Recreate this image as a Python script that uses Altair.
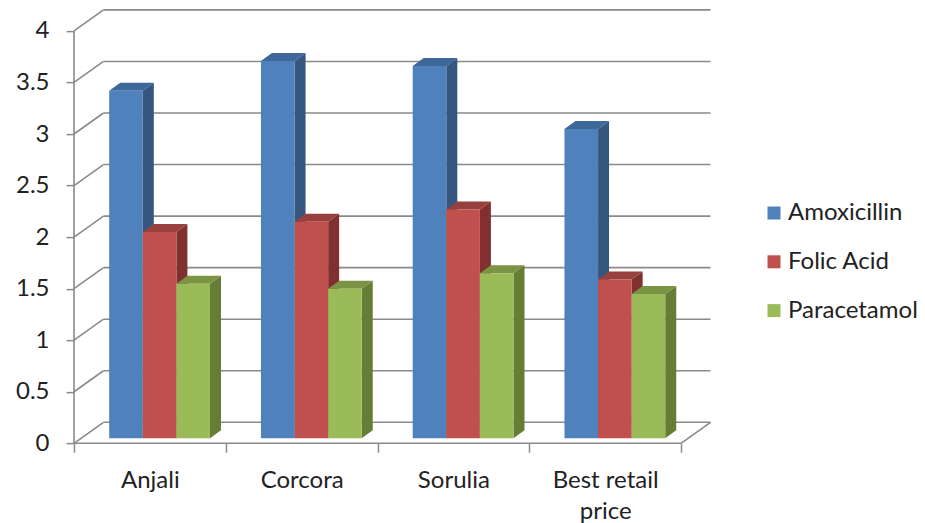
import json
import altair as alt
import pandas as pd

# ---------------- data ----------------
categories = ["Anjali", "Corcora", "Sorulia", "Best retail price"]
category_labels = [["Anjali"], ["Corcora"], ["Sorulia"], ["Best retail", "price"]]
series = ["Amoxicillin", "Folic Acid", "Paracetamol"]
amoxicillin = [3.37, 3.66, 3.61, 3.0]
folic_acid = [2.0, 2.1, 2.22, 1.54]
paracetamol = [1.5, 1.45, 1.6, 1.4]
y_ticks = [0, 0.5, 1, 1.5, 2, 2.5, 3, 3.5, 4]

# ---------------- style ----------------
front_colors = ["#4F81BD", "#C0504D", "#9BBB59"]
side_colors = ["#35567F", "#80302E", "#667D36"]
top_colors = ["#3E679A", "#98403D", "#7A9443"]
GRID = "#8A8A8A"
TEXT = "#222222"
FONT = "Lato"
FS = 24

PX_X = 151.75   # pixels per category
PX_Y = 103.1    # pixels per value unit
WDX, WDY = 29.5 / PX_X, 21 / PX_Y         # wall depth
BDX, BDY = 11 / PX_X, 8 / PX_Y            # bar depth
BAR_LEFT, BAR_W, BASE = 0.232, 0.2214, 0.0485

n = len(categories)
XMAX, YMAX = n + 0.2, 4.25
W, H = XMAX * PX_X, YMAX * PX_Y
LEFT, TOP = 74, 443.3 - H

values = [amoxicillin, folic_acid, paracetamol]
rows = []
for i, c in enumerate(categories):
    for j, s in enumerate(series):
        rows.append({"cat": c, "ci": i, "series": s, "si": j, "value": values[j][i],
                     "side": side_colors[j], "top": top_colors[j], "key": f"{i}-{j}"})
df = pd.DataFrame(rows)
ticks_df = pd.DataFrame({"t": y_ticks})

xs = alt.Scale(domain=[0, XMAX], nice=False, zero=False)
ys = alt.Scale(domain=[0, YMAX], nice=False, zero=False)

xaxis = alt.Axis(
    values=list(range(n + 1)), tickSize=9, tickColor=GRID, tickWidth=1.5,
    domain=False, grid=False, labelOffset=PX_X / 2,
    labelExpr=f"datum.value < {n} ? {json.dumps(category_labels)}[datum.value] : ''",
    labelFont=FONT, labelFontSize=FS, labelColor=TEXT, labelPadding=16,
    labelLineHeight=31, labelOverlap=False, labelFlush=False, title=None,
)
yaxis = alt.Axis(
    values=y_ticks, format=".1~f", tickSize=8, tickColor=GRID, tickWidth=1.5,
    domain=False, grid=False, labelFont=FONT, labelFontSize=FS, labelColor=TEXT,
    labelPadding=17, title=None,
)


def X(f):
    return alt.X(f, type="quantitative", scale=xs, axis=xaxis, title=None)


def Y(f):
    return alt.Y(f, type="quantitative", scale=ys, axis=yaxis, title=None)


# ---------------- walls ----------------
walls_base = alt.Chart(ticks_df)
back_lines = walls_base.transform_calculate(
    xa=f"{WDX}", xb=f"{n}+{WDX}", ya=f"datum.t+{WDY}"
).mark_rule(color=GRID, strokeWidth=1.6).encode(
    x=X("xa"), x2="xb:Q", y=Y("ya"), y2="ya:Q",
)
left_diag = walls_base.transform_calculate(
    xa="0", xb=f"{WDX}", ya="datum.t", yb=f"datum.t+{WDY}"
).mark_rule(color=GRID, strokeWidth=1.6).encode(
    x=X("xa"), x2="xb:Q", y=Y("ya"), y2="yb:Q"
)
frame = walls_base.transform_aggregate(tmax="max(t)", tmin="min(t)").transform_calculate(
    xa="0", xb=f"{n}", yzero="datum.tmin", ytop="datum.tmax",
    xr=f"{n}+{WDX}", yr=f"datum.tmin+{WDY}"
)
y_line = frame.mark_rule(color=GRID, strokeWidth=1.6).encode(
    x=X("xa"), y=Y("yzero"), y2="ytop:Q"
)
floor_front = frame.mark_rule(color=GRID, strokeWidth=1.6).encode(
    x=X("xa"), x2="xb:Q", y=Y("yzero"), y2="yzero:Q"
)
floor_right = frame.mark_rule(color=GRID, strokeWidth=1.6).encode(
    x=X("xb"), x2="xr:Q", y=Y("yzero"), y2="yr:Q"
)

# ---------------- bars ----------------
base = alt.Chart(df).transform_calculate(
    x0=f"datum.ci + {BAR_LEFT} + datum.si*{BAR_W}",
    x1=f"datum.ci + {BAR_LEFT} + (datum.si+1)*{BAR_W}",
    y0=f"{BASE}",
    y1=f"{BASE} + datum.value",
)
corners = base.transform_calculate(k="[0, 1]").transform_flatten(["k"])
sides = corners.transform_calculate(
    sx=f"datum.x1 + datum.k*{BDX}",
    sy=f"datum.y1 + datum.k*{BDY}",
    sy2=f"datum.y0 + datum.k*{BDY}",
).mark_area(orient="vertical").encode(
    x=X("sx"), y=Y("sy"), y2="sy2:Q",
    fill=alt.Fill("side:N", scale=None), detail="key:N",
)
tops = corners.transform_calculate(
    tx=f"datum.x0 + datum.k*{BDX}",
    tx2=f"datum.x1 + datum.k*{BDX}",
    ty=f"datum.y1 + datum.k*{BDY}",
).mark_area(orient="horizontal").encode(
    y=Y("ty"), x=X("tx"), x2="tx2:Q",
    fill=alt.Fill("top:N", scale=None), detail="key:N",
)
fronts = base.mark_rect().encode(
    x=X("x0"), x2="x1:Q", y=Y("y0"), y2="y1:Q",
    color=alt.Color(
        "series:N",
        scale=alt.Scale(domain=series, range=front_colors),
        legend=alt.Legend(
            title=None, orient="none", legendX=762 - LEFT, legendY=201 - TOP,
            symbolType="square", symbolSize=169, symbolStrokeWidth=0,
            labelFont=FONT, labelFontSize=FS, labelColor=TEXT, labelOffset=2,
            rowPadding=24.8, padding=0,
        ),
    ),
)

chart = alt.layer(
    back_lines, left_diag, y_line, floor_front, floor_right, sides, tops, fronts
).properties(
    width=W, height=H,
    autosize=alt.AutoSizeParams(type="none"),
    padding={"left": LEFT, "top": TOP, "right": 925 - LEFT - W, "bottom": 523 - 443.3},
    background="white",
).configure_view(stroke=None)

chart.save("out.html", embed_options={"renderer": "svg", "actions": False})
